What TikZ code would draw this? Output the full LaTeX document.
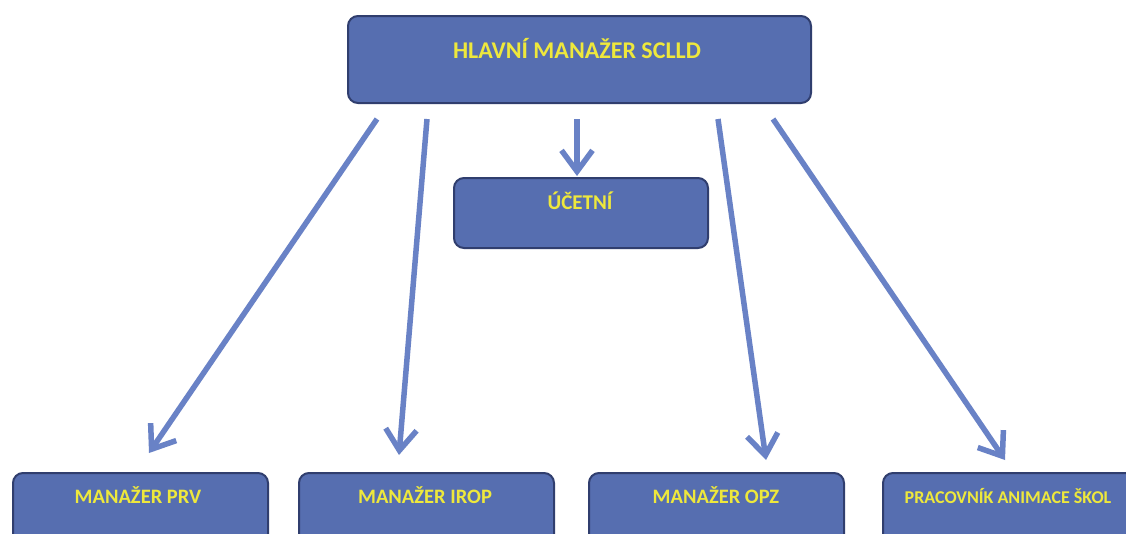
\documentclass[tikz,border=0pt]{standalone}
\usepackage{fontspec}
\setmainfont{Carlito}
\usetikzlibrary{arrows.meta}
\definecolor{boxfill}{RGB}{86,110,176}
\definecolor{boxline}{RGB}{48,62,110}
\definecolor{arrcol}{RGB}{105,130,198}
\definecolor{txt}{RGB}{238,232,60}
\begin{document}
\begin{tikzpicture}[x=1pt,y=-1pt,
 box/.style={draw=boxline, line width=2pt, fill=boxfill, rounded corners=10pt, anchor=north west, inner sep=0pt},
 lbl/.style={text=txt, anchor=base, inner sep=0pt},
 arr/.style={draw=arrcol, line width=5.5pt, -{Straight Barb[length=21pt,width=31pt]}}]
\useasboundingbox (0,0) rectangle (1126,533);
\clip (0,0) rectangle (1126,533);
\fill[white] (0,0) rectangle (1126,533);
\node[box, minimum width=463pt, minimum height=87pt] (top) at (347,15) {};
\node[box, minimum width=254pt, minimum height=70pt] (uc) at (453,177) {};
\node[box, minimum width=255pt, minimum height=100pt] (prv) at (12,472) {};
\node[box, minimum width=255pt, minimum height=100pt] (irop) at (298,472) {};
\node[box, minimum width=255pt, minimum height=100pt] (opz) at (588,472) {};
\node[box, minimum width=270pt, minimum height=100pt] (prac) at (882,472) {};
\node[lbl, font=\bfseries\fontsize{24}{24}\selectfont] (ttop) at (577,58) {HLAVNÍ MANAŽER SCLLD};
\node[lbl, font=\bfseries\fontsize{21}{21}\selectfont] (tuc) at (580,209) {ÚČETNÍ};
\node[lbl, font=\bfseries\fontsize{20.5}{20.5}\selectfont] (tprv) at (138,503) {MANAŽER PRV};
\node[lbl, font=\bfseries\fontsize{20.5}{20.5}\selectfont] (tirop) at (425,503) {MANAŽER IROP};
\node[lbl, font=\bfseries\fontsize{20.5}{20.5}\selectfont] (topz) at (716,503) {MANAŽER OPZ};
\node[lbl, font=\bfseries\fontsize{18}{18}\selectfont] (tprac) at (1008,503) {PRACOVNÍK ANIMACE ŠKOL};
\draw[arr] ([xshift=30pt,yshift=-15pt]top.south west) -- ([xshift=8.5pt,yshift=19pt]prv.north);
\draw[arr] ([xshift=80pt,yshift=-15pt]top.south west) -- ([xshift=-27.5pt,yshift=17pt]irop.north);
\draw[arr] ([xshift=-2.5pt,yshift=-15pt]top.south) -- ([xshift=-4pt,yshift=1pt]uc.north);
\draw[arr] ([xshift=371pt,yshift=-15pt]top.south west) -- ([xshift=49.5pt,yshift=12pt]opz.north);
\draw[arr] ([xshift=426pt,yshift=-15pt]top.south west) -- ([xshift=123pt,yshift=12pt]prac.north west);
\end{tikzpicture}
\end{document}
